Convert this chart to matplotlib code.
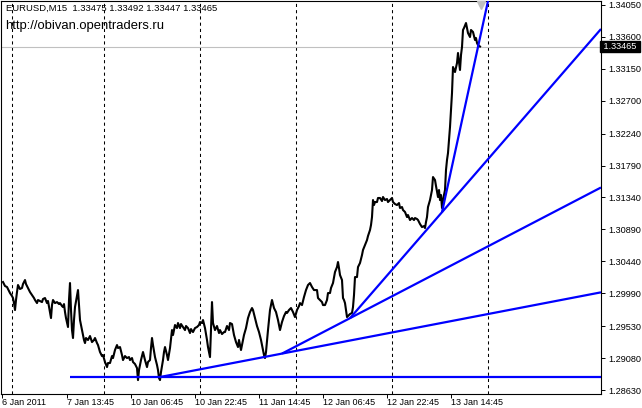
import matplotlib.pyplot as plt
import matplotlib.transforms as mtransforms

# EURUSD M15, bar numbers counted from 6 Jan 21:30 (weekend gap removed)
bars = [1, 3, 5, 7, 8, 10, 11, 12, 13, 14, 15, 16, 18, 20, 21, 23, 24, 26, 28, 30,
        32, 33, 35, 36, 38, 40, 41, 43, 45, 46, 48, 49, 50, 51, 53, 55, 57, 58, 60, 61,
        62, 63, 64, 66, 67, 68, 69, 70, 71, 72, 73, 75, 76, 77, 78, 80, 81, 82, 83, 84,
        86, 88, 90, 92, 93, 95, 96, 98, 100, 101, 103, 105, 106, 108, 110, 111, 113, 115, 116, 118,
        120, 121, 123, 125, 127, 128, 130, 131, 133, 135, 136, 137, 139, 141, 143, 145, 146, 148, 149, 150,
        151, 153, 155, 156, 157, 158, 159, 161, 162, 163, 165, 166, 168, 170, 171, 173, 175, 176, 178, 179,
        181, 183, 184, 186, 188, 189, 191, 193, 195, 197, 198, 200, 201, 203, 205, 206, 207, 208, 209, 210,
        211, 213, 215, 217, 218, 220, 222, 223, 225, 227, 228, 230, 232, 234, 236, 237, 239, 240, 242, 244,
        246, 248, 250, 251, 253, 255, 257, 259, 261, 262, 263, 264, 266, 268, 269, 270, 272, 274, 276, 277,
        278, 280, 282, 284, 285, 287, 289, 291, 293, 295, 297, 298, 300, 302, 304, 306, 308, 310, 312, 315,
        316, 318, 320, 321, 323, 325, 326, 328, 329, 331, 333, 335, 336, 337, 338, 340, 341, 342, 343, 344,
        345, 346, 348, 350, 351, 352, 353, 355, 356, 358, 360, 361, 363, 365, 366, 368, 369, 370, 371, 372,
        373, 375, 376, 378, 380, 381, 383, 385, 386, 388, 390, 391, 393, 395, 397, 398, 400, 401, 403, 405,
        406, 408, 410, 412, 413, 415, 416, 418, 420, 422, 423, 424, 425, 426, 428, 430, 431, 433, 434, 436,
        437, 438, 439, 440, 441, 443, 444, 445, 446, 447, 448, 449, 450, 451, 453, 455, 456, 457, 458, 459,
        460, 461, 462, 464, 465, 466, 468, 469, 471, 472, 473, 474, 475, 476, 478]
close = [1.30150, 1.30094, 1.30080, 1.30023, 1.29995, 1.29953, 1.29925, 1.29854, 1.29756, 1.29897,
         1.30009, 1.30108, 1.30052, 1.30066, 1.30122, 1.30178, 1.30122, 1.30066, 1.30009, 1.29967,
         1.29925, 1.29897, 1.29854, 1.29897, 1.29883, 1.29868, 1.29911, 1.29925, 1.29854, 1.29883,
         1.29728, 1.29643, 1.29826, 1.29897, 1.29854, 1.29868, 1.29840, 1.29854, 1.29812, 1.29798,
         1.29840, 1.29728, 1.29643, 1.29517, 1.29897, 1.30136, 1.29756, 1.29474, 1.29362, 1.29615,
         1.29798, 1.29953, 1.30037, 1.29826, 1.29615, 1.29474, 1.29404, 1.29334, 1.29291, 1.29362,
         1.29334, 1.29390, 1.29305, 1.29334, 1.29362, 1.29291, 1.29263, 1.29165, 1.29108, 1.29122,
         1.29024, 1.28953, 1.29010, 1.29010, 1.29108, 1.29080, 1.29193, 1.29263, 1.29221, 1.29235,
         1.29122, 1.29052, 1.29108, 1.29080, 1.29094, 1.29052, 1.29080, 1.29024, 1.28996, 1.28939,
         1.28770, 1.28911, 1.29052, 1.29165, 1.29052, 1.28953, 1.29024, 1.29052, 1.29221, 1.29362,
         1.29263, 1.29094, 1.28982, 1.28911, 1.28799, 1.28770, 1.28883, 1.29052, 1.29165, 1.29235,
         1.29122, 1.29052, 1.29221, 1.29474, 1.29404, 1.29545, 1.29502, 1.29573, 1.29502, 1.29559,
         1.29517, 1.29474, 1.29531, 1.29502, 1.29432, 1.29488, 1.29446, 1.29502, 1.29517, 1.29545,
         1.29587, 1.29573, 1.29615, 1.29502, 1.29334, 1.29235, 1.29165, 1.29094, 1.29474, 1.29868,
         1.29573, 1.29474, 1.29531, 1.29432, 1.29474, 1.29418, 1.29446, 1.29446, 1.29531, 1.29474,
         1.29573, 1.29559, 1.29404, 1.29305, 1.29235, 1.29334, 1.29193, 1.29263, 1.29404, 1.29502,
         1.29643, 1.29728, 1.29784, 1.29756, 1.29643, 1.29531, 1.29446, 1.29334, 1.29193, 1.29122,
         1.29080, 1.29165, 1.29474, 1.29756, 1.29826, 1.29897, 1.29784, 1.29728, 1.29615, 1.29545,
         1.29474, 1.29587, 1.29671, 1.29728, 1.29714, 1.29756, 1.29784, 1.29728, 1.29657, 1.29756,
         1.29812, 1.29854, 1.29826, 1.29939, 1.30037, 1.30108, 1.30136, 1.30080, 1.30037, 1.30037,
         1.29925, 1.29897, 1.29868, 1.29826, 1.29826, 1.29897, 1.29995, 1.29995, 1.30066, 1.30136,
         1.30291, 1.30361, 1.30432, 1.30347, 1.30249, 1.30178, 1.29925, 1.29897, 1.29854, 1.29756,
         1.29657, 1.29671, 1.29700, 1.29714, 1.29798, 1.29967, 1.30220, 1.30220, 1.30361, 1.30418,
         1.30530, 1.30601, 1.30671, 1.30741, 1.30798, 1.30882, 1.30952, 1.31065, 1.31304, 1.31234,
         1.31276, 1.31276, 1.31333, 1.31333, 1.31290, 1.31347, 1.31304, 1.31319, 1.31276, 1.31304,
         1.31333, 1.31276, 1.31248, 1.31234, 1.31262, 1.31192, 1.31206, 1.31164, 1.31136, 1.31065,
         1.31093, 1.31023, 1.31051, 1.31023, 1.31051, 1.31037, 1.31023, 1.30967, 1.30924, 1.30938,
         1.30910, 1.30995, 1.31065, 1.31206, 1.31304, 1.31445, 1.31628, 1.31586, 1.31502, 1.31347,
         1.31445, 1.31304, 1.31375, 1.31192, 1.31304, 1.31445, 1.31727, 1.31868, 1.31966, 1.32149,
         1.32332, 1.32571, 1.32811, 1.33177, 1.33106, 1.33233, 1.33374, 1.33247, 1.33135, 1.33346,
         1.33458, 1.33698, 1.33726, 1.33796, 1.33726, 1.33655, 1.33599, 1.33698, 1.33670, 1.33613,
         1.33557, 1.33585, 1.33515, 1.33486, 1.33465]

last_ohlc = [1.33475, 1.33492, 1.33447, 1.33465]

# day separators and time labels
day_starts = [10, 102, 198, 294, 390, 486]
label_bars = [0, 65, 129, 193, 257, 321, 385, 449]
label_text = ['6 Jan 2011', '7 Jan 13:45', '10 Jan 06:45', '10 Jan 22:45',
              '11 Jan 14:45', '12 Jan 06:45', '12 Jan 22:45', '13 Jan 14:45']
price_ticks = [1.34050, 1.33600, 1.33150, 1.32700, 1.32240, 1.31790, 1.31340,
               1.30890, 1.30440, 1.29990, 1.29530, 1.29080, 1.28630]

# trend lines: two anchor points each (bar, price), extended to the right edge
line_start_bar = [68, 158, 280, 348, 440]
line_start_price = [1.28813, 1.28813, 1.29143, 1.29641, 1.31133]
line_end_bar = [599, 599, 599, 599, 486]
line_end_price = [1.28813, 1.30005, 1.31481, 1.33712, 1.34106]

font = 'Liberation Sans'
fig = plt.figure(figsize=(6.42, 4.08), dpi=100)
ax = fig.add_axes([1.5 / 642, 14.5 / 408, 599.5 / 642, 392.5 / 408])
xmin, xmax = -0.5, 599
ax.set_xlim(xmin, xmax)
ax.set_ylim(1.28581, 1.34106)

for d in day_starts:
    ax.axvline(d, color='black', lw=0.75, linestyle=(0, (3, 3)), zorder=1)

ax.axhline(close[-1], color='#c0c0c0', lw=0.8, zorder=1)

ax.plot(bars, close, color='black', lw=1.5, zorder=2)

for b1, p1, b2, p2 in zip(line_start_bar, line_start_price, line_end_bar, line_end_price):
    slope = (p2 - p1) / (b2 - b1)
    ax.plot([b1, xmax], [p1, p1 + slope * (xmax - b1)], color='#0000ff', lw=1.6,
            solid_capstyle='butt', zorder=3)

# chart shift marker above the last bar
x_data_y_axes = mtransforms.blended_transform_factory(ax.transData, ax.transAxes)
ax.plot([bars[-1] + 1], [0.99], marker='v', color='#c0c0c0', markersize=6,
        transform=x_data_y_axes, clip_on=False, zorder=4)

ax.yaxis.tick_right()
ax.set_yticks(price_ticks)
ax.set_yticklabels([f'{p:.5f}' for p in price_ticks], fontsize=6.6, family=font)
ax.set_xticks(label_bars)
ax.set_xticklabels(label_text, fontsize=6.5, family=font, ha='left')
ax.tick_params(axis='y', length=3, width=0.7, pad=2)
ax.tick_params(axis='x', length=3, width=0.7, pad=0.5)
for s in ax.spines.values():
    s.set_linewidth(0.8)

# current price box on the price scale
x_axes_y_data = mtransforms.blended_transform_factory(ax.transAxes, ax.transData)
ax.text(1.0, close[-1], f' {close[-1]:.5f} ', transform=x_axes_y_data,
        ha='left', va='center', color='white', fontsize=6.6, family=font,
        bbox=dict(boxstyle='square,pad=0.15', fc='black', ec='black'), clip_on=False, zorder=5)

ax.text(4 / 599.5, 1 - 3 / 392.5,
        'EURUSD,M15  ' + ' '.join(f'{v:.5f}' for v in last_ohlc),
        transform=ax.transAxes, ha='left', va='top', fontsize=6.8, family=font)
ax.text(4 / 599.5, 1 - 19 / 392.5, 'http://obivan.opentraders.ru',
        transform=ax.transAxes, ha='left', va='top', fontsize=9.4, family=font)

fig.savefig('out.png', dpi=100)
